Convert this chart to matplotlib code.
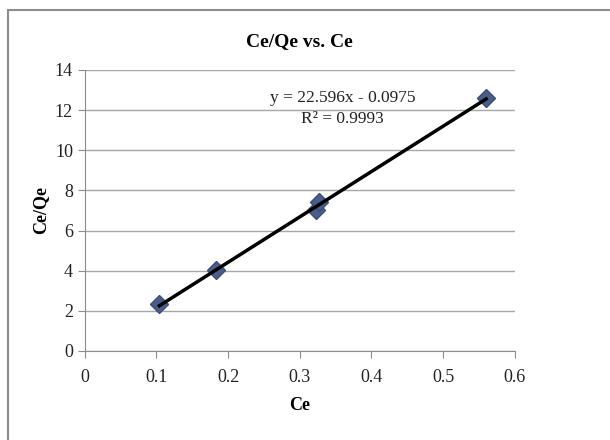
import numpy as np
import matplotlib.pyplot as plt
from matplotlib.patches import Rectangle

plt.rcParams['font.family'] = ['Liberation Serif', 'DejaVu Serif']

# data
ce = [0.104, 0.183, 0.322, 0.327, 0.560]
ce_qe = [2.35, 4.05, 7.00, 7.40, 12.60]
slope, intercept = 22.596, -0.0975
x_ticks = [0, 0.1, 0.2, 0.3, 0.4, 0.5, 0.6]
y_ticks = [0, 2, 4, 6, 8, 10, 12, 14]

fig = plt.figure(figsize=(6.1, 4.4), dpi=100)
fig.patch.set_facecolor('white')
fig.patches.append(Rectangle((8 / 610, -0.05), 1.1, 1 - 10 / 440 + 0.05,
                             transform=fig.transFigure, fill=False,
                             edgecolor='#8c8c8c', linewidth=1.5))

ax = fig.add_axes([0.139, 0.2023, 0.705, 0.6387])

# trendline
xs = np.array([min(ce), max(ce)])
ax.plot(xs, slope * xs + intercept, color='black', linewidth=2.5, zorder=3)
ax.plot(ce, ce_qe, linestyle='none', marker='D', markersize=9,
        color='#4a5e8c', markeredgecolor='#3c4c74', zorder=2)

ax.set_xlim(0, 0.6)
ax.set_ylim(0, 14)
ax.set_xticks(x_ticks)
ax.set_xticklabels(['0', '0.1', '0.2', '0.3', '0.4', '0.5', '0.6'])
ax.set_yticks(y_ticks)
ax.yaxis.grid(True, color='#a6a6a6', linewidth=1)
ax.set_axisbelow(True)
for s in ['top', 'right']:
    ax.spines[s].set_visible(False)
for s in ['left', 'bottom']:
    ax.spines[s].set_color('#8c8c8c')
ax.tick_params(colors='#8c8c8c', labelcolor='#222222', labelsize=13,
               direction='out', length=5)
ax.tick_params(axis='x', pad=8)

ax.set_title('Ce/Qe vs. Ce', fontsize=14, fontweight='bold', pad=17)
ax.set_xlabel('Ce', fontsize=13, fontweight='bold', labelpad=8)
ax.set_ylabel('Ce/Qe', fontsize=13, fontweight='bold', labelpad=4)

ax.text(0.36, 12.6, 'y = 22.596x - 0.0975', ha='center', va='center',
        fontsize=12.5, color='#222222')
ax.text(0.36, 11.55, 'R² = 0.9993', ha='center', va='center',
        fontsize=12.5, color='#222222')

plt.savefig('out.png', dpi=100)
